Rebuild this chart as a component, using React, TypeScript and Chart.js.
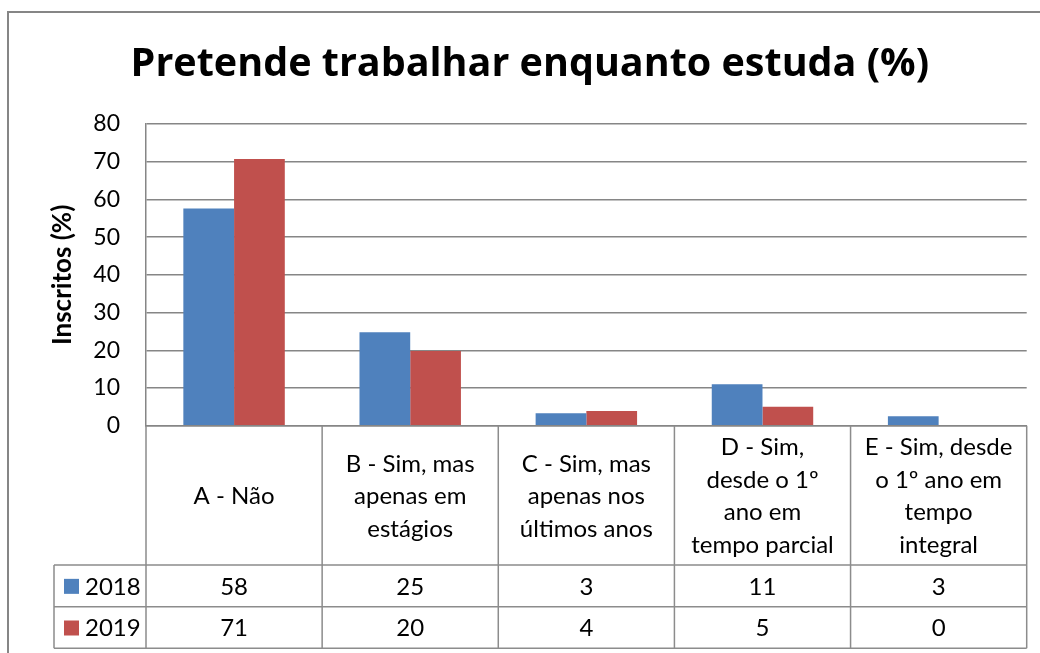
import React, { useEffect, useRef } from "react";
import { Chart, registerables } from "chart.js";

Chart.register(...registerables);

// ---- data ----
const categoryLines: string[][] = [
  ["A - Não"],
  ["B - Sim, mas", "apenas em", "estágios"],
  ["C - Sim, mas", "apenas nos", "últimos anos"],
  ["D - Sim,", "desde o 1º", "ano em", "tempo parcial"],
  ["E - Sim, desde", "o 1º ano em", "tempo", "integral"],
];
const seriesNames = ["2018", "2019"];
const values2018 = [57.6, 24.8, 3.3, 11.0, 2.5];
const values2019 = [70.7, 19.8, 3.9, 5.0, 0];
const table2018 = ["58", "25", "3", "11", "3"];
const table2019 = ["71", "20", "4", "5", "0"];
const yTicks = [0, 10, 20, 30, 40, 50, 60, 70, 80];
const titleText = "Pretende trabalhar enquanto estuda (%)";
const yAxisTitle = "Inscritos (%)";

const seriesColors = ["#4F81BD", "#C0504D"];
const gridColor = "#868686";
const FONT = "Lato, 'Open Sans', sans-serif";
const TITLE_FONT = "'Open Sans', Lato, sans-serif";

const HEADER_BOTTOM = 565;
const ROW1_BOTTOM = 606.7;
const ROW2_BOTTOM = 648.3;
const TABLE_LEFT = 54;

const tablePlugin = {
  id: "dataTable",
  afterDraw(chart: any) {
    const { ctx, chartArea } = chart;
    const n = categoryLines.length;
    const colW = chartArea.width / n;
    const top = chartArea.bottom;
    ctx.save();
    // outer chart border (extends beyond visible area)
    ctx.strokeStyle = gridColor;
    ctx.lineWidth = 2;
    ctx.beginPath();
    ctx.moveTo(8, 660);
    ctx.lineTo(8, 12);
    ctx.lineTo(1045, 12);
    ctx.stroke();

    // table grid
    ctx.lineWidth = 1.5;
    ctx.strokeStyle = "#8c8c8c";
    ctx.beginPath();
    for (let i = 0; i <= n; i++) {
      const x = chartArea.left + i * colW;
      ctx.moveTo(x, top);
      ctx.lineTo(x, ROW2_BOTTOM);
    }
    ctx.moveTo(TABLE_LEFT, HEADER_BOTTOM);
    ctx.lineTo(chartArea.right, HEADER_BOTTOM);
    ctx.moveTo(TABLE_LEFT, ROW1_BOTTOM);
    ctx.lineTo(chartArea.right, ROW1_BOTTOM);
    ctx.moveTo(TABLE_LEFT, ROW2_BOTTOM);
    ctx.lineTo(chartArea.right, ROW2_BOTTOM);
    ctx.moveTo(TABLE_LEFT, HEADER_BOTTOM);
    ctx.lineTo(TABLE_LEFT, ROW2_BOTTOM);
    ctx.stroke();

    // header text
    ctx.fillStyle = "#000";
    ctx.font = `24px ${FONT}`;
    ctx.textAlign = "center";
    ctx.textBaseline = "middle";
    const lh = 32.5;
    const headerMid = (top + HEADER_BOTTOM) / 2 + 1;
    categoryLines.forEach((lines, i) => {
      const cx = chartArea.left + (i + 0.5) * colW;
      const startY = headerMid - ((lines.length - 1) * lh) / 2;
      lines.forEach((l, j) => ctx.fillText(l, cx, startY + j * lh));
    });

    // data rows
    const rows = [table2018, table2019];
    const rowMids = [(HEADER_BOTTOM + ROW1_BOTTOM) / 2 + 1, (ROW1_BOTTOM + ROW2_BOTTOM) / 2 + 1];
    rows.forEach((row, r) => {
      ctx.textAlign = "center";
      row.forEach((v, i) => {
        const cx = chartArea.left + (i + 0.5) * colW;
        ctx.fillText(v, cx, rowMids[r]);
      });
      // legend key
      ctx.fillStyle = seriesColors[r];
      ctx.fillRect(64, rowMids[r] - 8, 15, 15);
      ctx.fillStyle = "#000";
      ctx.textAlign = "left";
      ctx.fillText(seriesNames[r], 85, rowMids[r]);
    });
    ctx.restore();
  },
};

export default function App() {
  const ref = useRef<HTMLCanvasElement | null>(null);
  useEffect(() => {
    if (!ref.current) return;
    const chart = new Chart(ref.current, {
      type: "bar",
      data: {
        labels: categoryLines.map((l) => l.join(" ")),
        datasets: [
          { label: seriesNames[0], data: values2018, backgroundColor: seriesColors[0] },
          { label: seriesNames[1], data: values2019, backgroundColor: seriesColors[1] },
        ],
      },
      options: {
        responsive: false,
        animation: false,
        devicePixelRatio: 1,
        layout: { padding: { left: 33, right: 13.3, top: 0, bottom: 653 - 425.7 } },
        datasets: { bar: { categoryPercentage: 0.576, barPercentage: 1 } },
        plugins: {
          legend: { display: false },
          tooltip: { enabled: false },
          title: {
            display: true,
            text: titleText,
            color: "#000",
            font: { family: TITLE_FONT, size: 39.5, weight: "bold", lineHeight: 1.2 },
            padding: { top: 41.3, bottom: 124 - 41.3 - 47.4 },
          },
        },
        scales: {
          x: {
            grid: { display: false, drawTicks: false },
            border: { display: true, color: gridColor, width: 1.5 },
            ticks: { display: false },
          },
          y: {
            min: 0,
            max: 80,
            afterBuildTicks: (s: any) => {
              s.ticks = yTicks.map((v) => ({ value: v }));
            },
            afterFit: (s: any) => {
              s.width = 146 - 33;
            },
            grid: { color: gridColor, lineWidth: 1.5, drawTicks: false },
            border: { display: true, color: gridColor, width: 1.5 },
            ticks: {
              color: "#000",
              padding: 26,
              font: { family: FONT, size: 23 },
            },
            title: {
              display: true,
              text: yAxisTitle,
              color: "#000",
              font: { family: FONT, size: 26, weight: "bold" },
              padding: { top: 14, bottom: 0 },
            },
          },
        },
      },
      plugins: [tablePlugin],
    });
    return () => chart.destroy();
  }, []);
  return (
    <div style={{ position: "absolute", left: 0, top: 0, width: 1040, height: 653, background: "#fff" }}>
      <canvas ref={ref} width={1040} height={653} style={{ display: "block" }} />
    </div>
  );
}
